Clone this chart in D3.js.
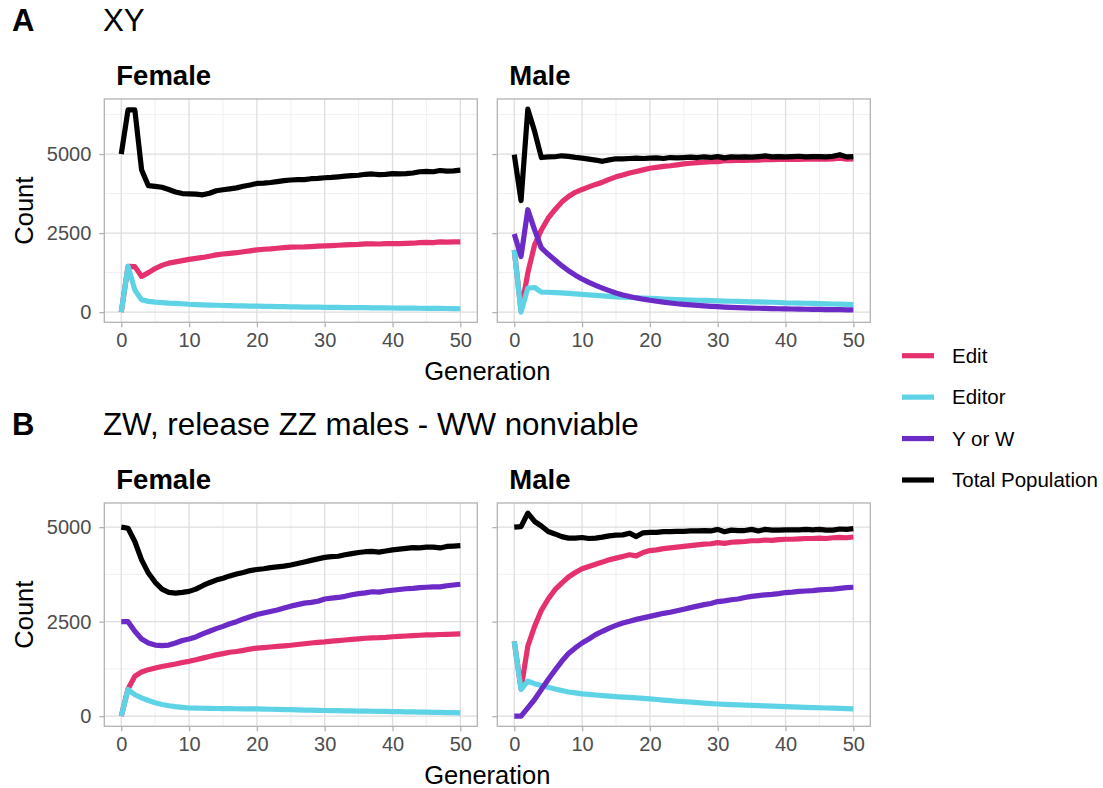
<!DOCTYPE html>
<html>
<head>
<meta charset="utf-8">
<script src="https://cdn.jsdelivr.net/npm/d3@7"></script>
<style>
  body { margin: 0; background: #ffffff; }
  text { font-family: "Liberation Sans", Arial, sans-serif; }
</style>
</head>
<body>
<div id="chart"></div>
<script>
const width = 1103;
const height = 788;

const seriesNames = ["Edit", "Editor", "Y or W", "Total Population"];
const seriesColors = ["#e5316e", "#5fd3e6", "#6c2ac6", "#000000"];
const generations = [
  0, 1, 2, 3, 4, 5, 6, 7, 8, 9, 10, 11, 12, 13, 14, 15, 16, 17, 18, 19, 20,
  21, 22, 23, 24, 25, 26, 27, 28, 29, 30, 31, 32, 33, 34, 35, 36, 37, 38, 39,
  40, 41, 42, 43, 44, 45, 46, 47, 48, 49, 50
];
const xTicks = [0, 10, 20, 30, 40, 50];
const xMinorTicks = [5, 15, 25, 35, 45];
const yTicks = [0, 2500, 5000];
const yMinorTicks = [1250, 3750, 6250];

// A: XY ////////////////////////////////////
const xyFemaleEdit = [
  0, 1445, 1440, 1130, 1250, 1380, 1480, 1550, 1590, 1630, 1670, 1700, 1730,
  1770, 1810, 1840, 1860, 1880, 1910, 1940, 1970, 1990, 2000, 2020, 2040, 2055,
  2060, 2065, 2075, 2085, 2095, 2105, 2115, 2125, 2135, 2145, 2160, 2160, 2155,
  2165, 2170, 2170, 2175, 2180, 2200, 2205, 2200, 2220, 2215, 2220, 2225
];
const xyFemaleEditor = [
  0, 1450, 700, 390, 340, 315, 300, 285, 275, 265, 250, 240, 232, 225, 218, 210,
  205, 200, 196, 192, 188, 184, 180, 176, 172, 168, 165, 162, 159, 156, 153, 150,
  148, 146, 144, 142, 140, 138, 136, 134, 132, 130, 128, 126, 124, 122, 120, 118,
  115, 112, 108
];
const xyFemaleTotal = [
  5000, 6400, 6400, 4500, 4000, 3980, 3950, 3880, 3800, 3750, 3740, 3730, 3710,
  3760, 3840, 3870, 3900, 3930, 3980, 4020, 4070, 4080, 4100, 4130, 4160, 4180,
  4190, 4190, 4220, 4230, 4250, 4260, 4280, 4300, 4320, 4330, 4360, 4370, 4350,
  4360, 4380, 4370, 4380, 4400, 4440, 4450, 4440, 4480, 4460, 4470, 4490
];
const xyMaleEdit = [
  1970, 50, 1240, 2130, 2600, 2970, 3240, 3480, 3660, 3790, 3880, 3960, 4040,
  4110, 4200, 4280, 4340, 4400, 4450, 4500, 4550, 4580, 4610, 4630, 4660, 4690,
  4710, 4730, 4740, 4760, 4760, 4790, 4790, 4800, 4800, 4810, 4810, 4830, 4820,
  4830, 4830, 4840, 4830, 4840, 4840, 4850, 4840, 4850, 4870, 4840, 4850
];
const xyMaleEditor = [
  1970, 0, 760, 780, 635, 630, 620, 610, 595, 580, 560, 545, 530, 515, 500, 485,
  475, 465, 455, 445, 435, 425, 415, 405, 398, 390, 383, 376, 370, 363, 356, 350,
  344, 338, 333, 328, 323, 318, 313, 305, 294, 290, 286, 282, 276, 270, 264, 258,
  252, 247, 242
];
const xyMaleYW = [
  2470, 1760, 3240, 2600, 2030, 1830, 1650, 1470, 1310, 1170, 1050, 940, 845,
  760, 680, 605, 545, 495, 450, 410, 375, 345, 315, 290, 265, 245, 228, 212, 198,
  185, 172, 162, 152, 144, 137, 130, 124, 118, 113, 108, 104, 100, 96, 92, 89, 86,
  83, 80, 77, 75, 73
];
const xyMaleTotal = [
  4980, 3530, 6420, 5720, 4890, 4910, 4915, 4945, 4925, 4895, 4870, 4840, 4810,
  4770, 4815, 4850, 4850, 4860, 4870, 4860, 4870, 4880, 4860, 4890, 4880, 4890,
  4900, 4890, 4910, 4890, 4920, 4880, 4910, 4900, 4910, 4900, 4920, 4940, 4910,
  4920, 4910, 4920, 4930, 4910, 4920, 4920, 4910, 4930, 4980, 4910, 4920
];

// B: ZW, release ZZ males ////////////////////
const zwFemaleEdit = [
  0, 720, 1055, 1170, 1230, 1275, 1315, 1345, 1380, 1420, 1450, 1490, 1535,
  1580, 1620, 1655, 1690, 1710, 1740, 1775, 1800, 1815, 1830, 1845, 1860, 1875,
  1895, 1915, 1935, 1950, 1965, 1985, 2000, 2015, 2030, 2045, 2060, 2070, 2075,
  2085, 2100, 2110, 2120, 2130, 2140, 2150, 2150, 2160, 2165, 2170, 2175
];
const zwFemaleEditor = [
  0, 705, 570, 485, 415, 355, 310, 275, 250, 232, 215, 212, 209, 206, 203, 200,
  198, 196, 194, 192, 190, 186, 182, 178, 174, 170, 166, 162, 158, 154, 150, 147,
  144, 141, 138, 135, 132, 129, 127, 124, 122, 119, 115, 112, 108, 105, 102, 98,
  95, 92, 88
];
const zwFemaleYW = [
  2500, 2500, 2245, 2040, 1935, 1880, 1865, 1880, 1935, 2000, 2040, 2095, 2175,
  2245, 2315, 2375, 2445, 2500, 2570, 2630, 2690, 2730, 2770, 2810, 2860, 2910,
  2950, 2990, 3010, 3040, 3100, 3120, 3140, 3170, 3210, 3240, 3260, 3290, 3280,
  3310, 3330, 3350, 3370, 3380, 3400, 3410, 3420, 3420, 3450, 3470, 3490
];
const zwFemaleTotal = [
  5000, 4970, 4620, 4135, 3785, 3540, 3360, 3275, 3255, 3275, 3300, 3360, 3450,
  3530, 3600, 3650, 3710, 3760, 3800, 3850, 3880, 3900, 3930, 3950, 3970, 4000,
  4040, 4080, 4120, 4160, 4200, 4220, 4230, 4270, 4300, 4330, 4350, 4360, 4340,
  4370, 4400, 4420, 4440, 4460, 4450, 4470, 4470, 4450, 4490, 4500, 4510
];
const zwMaleEdit = [
  1980, 720, 1850, 2375, 2800, 3100, 3345, 3520, 3680, 3800, 3900, 3960, 4020,
  4075, 4135, 4180, 4225, 4270, 4240, 4330, 4380, 4400, 4430, 4450, 4470, 4490,
  4510, 4530, 4550, 4560, 4590, 4570, 4600, 4610, 4620, 4640, 4640, 4660, 4650,
  4670, 4680, 4680, 4690, 4700, 4700, 4710, 4700, 4720, 4730, 4720, 4740
];
const zwMaleEditor = [
  1980, 705, 925, 860, 810, 765, 720, 680, 640, 615, 590, 575, 560, 545, 530,
  515, 505, 495, 485, 470, 458, 440, 425, 410, 395, 382, 370, 358, 345, 333, 322,
  314, 307, 300, 292, 285, 278, 271, 264, 257, 250, 245, 240, 234, 228, 222, 216,
  210, 205, 200, 195
];
const zwMaleYW = [
  0, 0, 220, 440, 705, 970, 1215, 1450, 1655, 1805, 1935, 2040, 2155, 2245, 2330,
  2400, 2465, 2510, 2560, 2600, 2640, 2680, 2720, 2750, 2790, 2830, 2870, 2910,
  2950, 2980, 3030, 3050, 3080, 3100, 3140, 3170, 3190, 3210, 3220, 3240, 3270,
  3280, 3300, 3310, 3320, 3340, 3350, 3360, 3380, 3400, 3410
];
const zwMaleTotal = [
  5000, 5015, 5370, 5150, 5030, 4885, 4820, 4750, 4710, 4710, 4725, 4700, 4710,
  4735, 4770, 4790, 4795, 4840, 4750, 4850, 4860, 4860, 4880, 4880, 4890, 4890,
  4900, 4900, 4910, 4900, 4940, 4880, 4920, 4910, 4910, 4940, 4900, 4940, 4920,
  4920, 4930, 4930, 4930, 4940, 4930, 4940, 4920, 4920, 4950, 4940, 4960
];

// Layout ////////////////////////////////////
const panelWidth = 373;
const panelLefts = [104.3, 497.3];
const lineWidth = 5.2;

const rows = [
  {
    tag: "A",
    title: "XY",
    top: 99,
    bottom: 322.3,
    panels: [
      { name: "Female", series: [xyFemaleEdit, xyFemaleEditor, null, xyFemaleTotal] },
      { name: "Male", series: [xyMaleEdit, xyMaleEditor, xyMaleYW, xyMaleTotal] }
    ]
  },
  {
    tag: "B",
    title: "ZW, release ZZ males - WW nonviable",
    top: 503,
    bottom: 726.3,
    panels: [
      { name: "Female", series: [zwFemaleEdit, zwFemaleEditor, zwFemaleYW, zwFemaleTotal] },
      { name: "Male", series: [zwMaleEdit, zwMaleEditor, zwMaleYW, zwMaleTotal] }
    ]
  }
];

const svg = d3
  .select("#chart")
  .append("svg")
  .attr("width", width)
  .attr("height", height)
  .style("background", "#ffffff");

// Draw functions //////////////////////////////

const drawPanel = (row, panel, left, yScale) => {
  const xScale = d3
    .scaleLinear()
    .domain([-2.5, 52.5])
    .range([left, left + panelWidth]);
  const g = svg.append("g");

  // minor grid
  g.selectAll(".xminor")
    .data(xMinorTicks)
    .enter()
    .append("line")
    .attr("x1", d => xScale(d))
    .attr("x2", d => xScale(d))
    .attr("y1", row.top)
    .attr("y2", row.bottom)
    .style("stroke", "#ececec")
    .style("stroke-width", 0.8);
  g.selectAll(".yminor")
    .data(yMinorTicks.filter(d => yScale(d) > row.top))
    .enter()
    .append("line")
    .attr("x1", left)
    .attr("x2", left + panelWidth)
    .attr("y1", d => yScale(d))
    .attr("y2", d => yScale(d))
    .style("stroke", "#ececec")
    .style("stroke-width", 0.8);

  // major grid
  g.selectAll(".xmajor")
    .data(xTicks)
    .enter()
    .append("line")
    .attr("x1", d => xScale(d))
    .attr("x2", d => xScale(d))
    .attr("y1", row.top)
    .attr("y2", row.bottom)
    .style("stroke", "#dedede")
    .style("stroke-width", 1.3);
  g.selectAll(".ymajor")
    .data(yTicks)
    .enter()
    .append("line")
    .attr("x1", left)
    .attr("x2", left + panelWidth)
    .attr("y1", d => yScale(d))
    .attr("y2", d => yScale(d))
    .style("stroke", "#dedede")
    .style("stroke-width", 1.3);

  // lines
  const line = d3
    .line()
    .x((d, i) => xScale(generations[i]))
    .y(d => yScale(d));
  panel.series.forEach((values, i) => {
    if (!values) return;
    g.append("path")
      .datum(values)
      .attr("d", line)
      .style("fill", "none")
      .style("stroke", seriesColors[i])
      .style("stroke-width", lineWidth)
      .style("stroke-linejoin", "round");
  });

  // border
  g.append("rect")
    .attr("x", left)
    .attr("y", row.top)
    .attr("width", panelWidth)
    .attr("height", row.bottom - row.top)
    .style("fill", "none")
    .style("stroke", "#b3b3b3")
    .style("stroke-width", 1.3);

  // x axis
  const xAxis = g
    .append("g")
    .attr("transform", `translate(0,${row.bottom})`)
    .call(d3.axisBottom(xScale).tickValues(xTicks).tickSize(5).tickPadding(6));
  xAxis.select(".domain").remove();
  xAxis.selectAll("line").style("stroke", "#b3b3b3").style("stroke-width", 1.3);
  xAxis
    .selectAll("text")
    .style("font-size", "20px")
    .style("fill", "#4d4d4d")
    .style("font-family", '"Liberation Sans", Arial, sans-serif');

  // y axis, labels only on the left panel
  const yAxis = g
    .append("g")
    .attr("transform", `translate(${left},0)`)
    .call(
      d3.axisLeft(yScale)
        .tickValues(yTicks)
        .tickFormat(d3.format("d"))
        .tickSize(5)
        .tickPadding(8)
    );
  yAxis.select(".domain").remove();
  yAxis.selectAll("line").style("stroke", "#b3b3b3").style("stroke-width", 1.3);
  yAxis
    .selectAll("text")
    .style("font-size", "20px")
    .style("fill", "#4d4d4d")
    .style("font-family", '"Liberation Sans", Arial, sans-serif')
    .style("display", left === panelLefts[0] ? null : "none");

  // strip label
  g.append("text")
    .attr("x", left + 12)
    .attr("y", row.top - 14)
    .style("font-size", "27.5px")
    .style("font-weight", "bold")
    .style("fill", "#000")
    .text(panel.name);
};

const drawRow = row => {
  const allValues = row.panels.flatMap(p => p.series.filter(s => s).flat());
  const [lo, hi] = d3.extent(allValues);
  const pad = (hi - lo) * 0.05;
  const yScale = d3
    .scaleLinear()
    .domain([lo - pad, hi + pad])
    .range([row.bottom, row.top]);

  row.panels.forEach((panel, i) => drawPanel(row, panel, panelLefts[i], yScale));

  // row tag + title
  svg.append("text")
    .attr("x", 12)
    .attr("y", row.top - 68.5)
    .style("font-size", "31px")
    .style("font-weight", "bold")
    .text(row.tag);
  svg.append("text")
    .attr("x", 103)
    .attr("y", row.top - 68.5)
    .style("font-size", "31.3px")
    .text(row.title);

  // axis titles
  svg.append("text")
    .attr("transform", `translate(33,${(row.top + row.bottom) / 2}) rotate(-90)`)
    .attr("text-anchor", "middle")
    .style("font-size", "25.5px")
    .text("Count");
  svg.append("text")
    .attr("x", (panelLefts[0] + panelLefts[1] + panelWidth) / 2)
    .attr("y", row.bottom + 57.5)
    .attr("text-anchor", "middle")
    .style("font-size", "25.5px")
    .text("Generation");
};

const drawLegend = () => {
  const legendY = d3
    .scalePoint()
    .domain(seriesNames)
    .range([355.7, 480]);
  const items = svg
    .selectAll(".legendItem")
    .data(seriesNames)
    .enter()
    .append("g")
    .attr("class", "legendItem")
    .attr("transform", d => `translate(0,${legendY(d)})`);
  items
    .append("line")
    .attr("x1", 902)
    .attr("x2", 934)
    .style("stroke", (d, i) => seriesColors[i])
    .style("stroke-width", lineWidth);
  items
    .append("text")
    .attr("x", 952)
    .attr("y", 7)
    .style("font-size", "20.5px")
    .text(d => d);
};

// DRAW ////////////////////////////////////

rows.forEach(row => drawRow(row));
drawLegend();
</script>
</body>
</html>
